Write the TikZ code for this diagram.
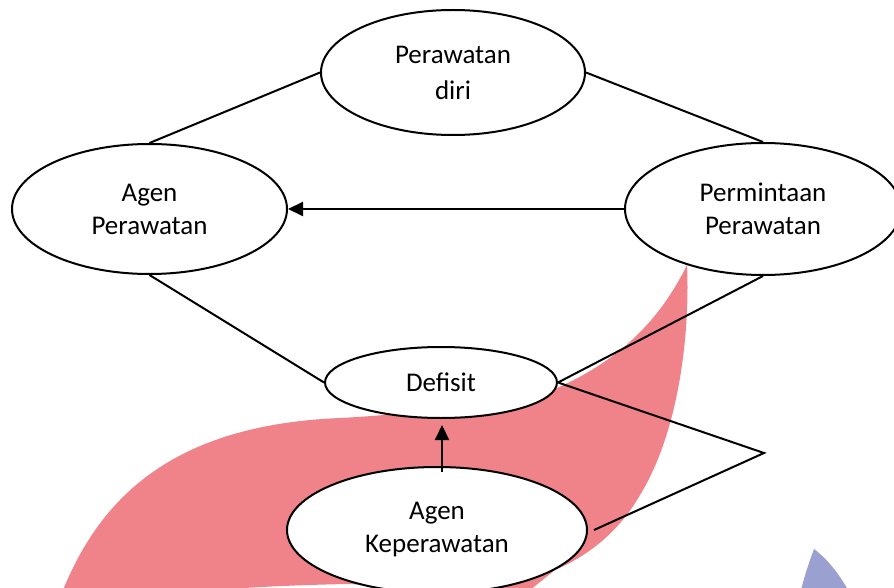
\documentclass[tikz,border=0pt]{standalone}
\usepackage{fontspec}
\setmainfont{Carlito}
\usetikzlibrary{arrows.meta,shapes.geometric}
\definecolor{wmpink}{RGB}{240,131,137}
\definecolor{wmblue}{RGB}{154,160,207}
\begin{document}
\begin{tikzpicture}[x=1pt,y=-1pt,
  bubble/.style={ellipse, draw, line width=2pt, fill=white, inner sep=0pt, align=center, font=\fontsize{27}{33}\selectfont},
  conn/.style={line width=2pt},
  arr/.style={conn, -{Triangle[length=15pt,width=14pt]}}]
\useasboundingbox (0,0) rectangle (894,588);
% watermark shapes
\fill[wmpink] (63,590) .. controls (100,500) and (170,425) .. (340,418)
  .. controls (420,414) and (520,400) .. (557,388)
  .. controls (620,360) and (660,320) .. (687,265)
  .. controls (690,330) and (680,430) .. (640,495)
  .. controls (620,530) and (590,555) .. (555,570)
  -- (530,590) -- (346,584) .. controls (300,585) and (250,587) .. (220,590) -- cycle;
\fill[wmblue] (814,549) .. controls (808,565) and (804,578) .. (801,590) -- (848,590) .. controls (838,572) and (826,558) .. cycle;
% nodes
\node[bubble, minimum width=264pt, minimum height=125pt] (pd) at (453,72.5) {Perawatan\\[3pt]diri};
\node[bubble, minimum width=275pt, minimum height=130pt] (ap) at (149.5,209) {Agen\\Perawatan};
\node[bubble, minimum width=276pt, minimum height=132pt] (pp) at (763,209) {Permintaan\\Perawatan};
\node[bubble, minimum width=232pt, minimum height=71pt] (df) at (441,382.5) {Defisit};
\node[bubble, minimum width=300pt, minimum height=126pt] (ak) at (437,530) {Agen\\Keperawatan};
\coordinate (tip) at (764,453);
% connectors
\draw[conn] (ap.north) -- (pd.west);
\draw[conn] (pd.east) -- (pp.north);
\draw[conn] (ap.south) -- (df.west);
\draw[conn] (pp.south) -- (df.east);
\draw[arr] (pp.west) -- (ap.east);
\draw[arr] ([xshift=5pt,yshift=-6pt]ak.north) -- ([xshift=5pt,yshift=-6pt]ak.north |- df.south);
\draw[conn] (df.east) -- (tip) -- ([xshift=6pt]ak.east);
\end{tikzpicture}
\end{document}
